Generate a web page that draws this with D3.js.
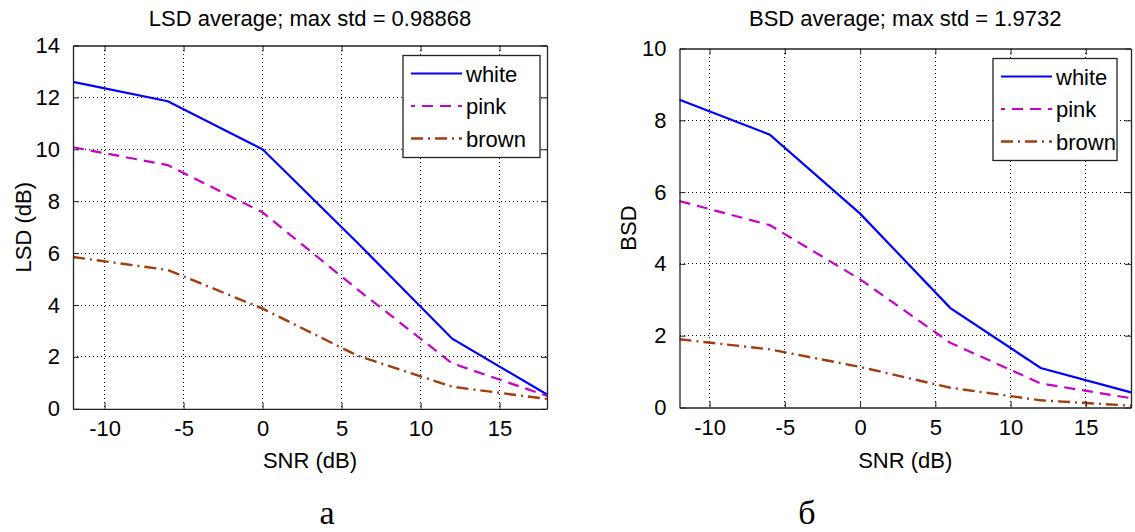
<!DOCTYPE html>
<html>
<head>
<meta charset="utf-8">
<script src="https://cdn.jsdelivr.net/npm/d3@7"></script>
<style>
  body { margin: 0; background: #fff; }
  text { font-family: "Liberation Sans", Arial, sans-serif; fill: #000; }
</style>
</head>
<body>
<div id="chart"></div>
<script>
const WIDTH = 1135;
const HEIGHT = 532;

// data
const snr = [-12, -6, 0, 6, 12, 18];
const xTicks = [-10, -5, 0, 5, 10, 15];
const noiseNames = ["white", "pink", "brown"];

const lsdWhite = [12.6, 11.85, 10.0, 6.4, 2.7, 0.55];
const lsdPink = [10.08, 9.39, 7.57, 4.6, 1.75, 0.5];
const lsdBrown = [5.85, 5.35, 3.86, 2.05, 0.85, 0.38];
const lsdTicks = [0, 2, 4, 6, 8, 10, 12, 14];

const bsdWhite = [8.57, 7.6, 5.4, 2.77, 1.1, 0.42];
const bsdPink = [5.75, 5.08, 3.57, 1.8, 0.67, 0.26];
const bsdBrown = [1.9, 1.62, 1.13, 0.55, 0.2, 0.05];
const bsdTicks = [0, 2, 4, 6, 8, 10];

const lineStyles = {
  white: {color: "#0000ff", dash: null, width: 2.2},
  pink: {color: "#c800c8", dash: "11,7", width: 2.2},
  brown: {color: "#a23c0c", dash: "12,5,2,5", width: 2.4}
};

let svg = d3.select("#chart").append("svg")
    .attr("width", WIDTH)
    .attr("height", HEIGHT);

// plain hyphen for negatives, like the original
let plainFormat = d => String(d);

function drawPanel(cfg) {
  let xScale = d3.scaleLinear().domain([-12, 18]).range([cfg.left, cfg.right]);
  let yScale = d3.scaleLinear().domain([0, cfg.yMax]).range([cfg.bottom, cfg.top]);
  let g = svg.append("g").classed("panel", true);

  // dotted grid
  g.append("g").selectAll("line.vgrid").data(xTicks).enter()
    .append("line")
    .attr("x1", d => xScale(d)).attr("x2", d => xScale(d))
    .attr("y1", cfg.top).attr("y2", cfg.bottom)
    .attr("stroke", "#000").attr("stroke-width", 1)
    .attr("stroke-dasharray", "1,3")
    .attr("shape-rendering", "crispEdges");
  g.append("g").selectAll("line.hgrid").data(cfg.yTicks.slice(1, -1)).enter()
    .append("line")
    .attr("x1", cfg.left).attr("x2", cfg.right)
    .attr("y1", d => yScale(d)).attr("y2", d => yScale(d))
    .attr("stroke", "#000").attr("stroke-width", 1)
    .attr("stroke-dasharray", "1,3")
    .attr("shape-rendering", "crispEdges");

  // series
  let line = d3.line()
    .x((d, i) => xScale(snr[i]))
    .y(d => yScale(d));
  cfg.series.forEach(function(values, i) {
    let st = lineStyles[noiseNames[i]];
    g.append("path")
      .datum(values)
      .attr("d", line)
      .attr("fill", "none")
      .attr("stroke", st.color)
      .attr("stroke-width", st.width)
      .attr("stroke-dasharray", st.dash);
  });

  // axes, ticks pointing inward on all four sides
  let tickLen = 6;
  let bottomAxis = d3.axisBottom(xScale).tickValues(xTicks).tickFormat(plainFormat).tickSizeInner(-tickLen).tickSizeOuter(0).tickPadding(12);
  let topAxis = d3.axisTop(xScale).tickValues(xTicks).tickSizeInner(-tickLen).tickSizeOuter(0).tickFormat("");
  let leftAxis = d3.axisLeft(yScale).tickValues(cfg.yTicks).tickFormat(plainFormat).tickSizeInner(-tickLen).tickSizeOuter(0).tickPadding(13);
  let rightAxis = d3.axisRight(yScale).tickValues(cfg.yTicks).tickSizeInner(-tickLen).tickSizeOuter(0).tickFormat("");

  let axes = [
    [bottomAxis, `translate(0,${cfg.bottom})`],
    [topAxis, `translate(0,${cfg.top})`],
    [leftAxis, `translate(${cfg.left},0)`],
    [rightAxis, `translate(${cfg.right},0)`]
  ];
  axes.forEach(function(a) {
    let ax = g.append("g").attr("transform", a[1]).call(a[0]);
    ax.select(".domain").attr("stroke", "#222").attr("stroke-width", 1.3);
    ax.selectAll(".tick line").attr("stroke", "#222");
    ax.selectAll(".tick text")
      .style("font-family", "'Liberation Sans', Arial, sans-serif")
      .style("font-size", "22px")
      .attr("fill", "#000");
  });

  // labels
  g.append("text")
    .attr("x", (cfg.left + cfg.right) / 2)
    .attr("y", 26)
    .attr("text-anchor", "middle")
    .style("font-size", "22px")
    .text(cfg.title);
  g.append("text")
    .attr("x", (cfg.left + cfg.right) / 2)
    .attr("y", 468)
    .attr("text-anchor", "middle")
    .style("font-size", "22px")
    .text("SNR (dB)");
  g.append("text")
    .attr("transform", `translate(${cfg.yLabelX},${(cfg.top + cfg.bottom) / 2}) rotate(-90)`)
    .attr("text-anchor", "middle")
    .style("font-size", "22px")
    .text(cfg.yLabel);
  g.append("text")
    .attr("x", cfg.captionX)
    .attr("y", 524)
    .attr("text-anchor", "middle")
    .style("font-family", "'Liberation Serif', 'Times New Roman', serif")
    .style("font-size", "34px")
    .text(cfg.caption);

  // legend
  let lg = g.append("g").attr("transform", `translate(${cfg.legendX},${cfg.top + 10})`);
  lg.append("rect")
    .attr("width", cfg.legendW).attr("height", 102)
    .attr("fill", "#fff").attr("stroke", "#222").attr("stroke-width", 1.3);
  noiseNames.forEach(function(name, i) {
    let st = lineStyles[name];
    let y = 18 + i * 32.5;
    lg.append("line")
      .attr("x1", 8).attr("x2", 59)
      .attr("y1", y).attr("y2", y)
      .attr("stroke", st.color)
      .attr("stroke-width", st.width)
      .attr("stroke-dasharray", st.dash ? st.dash : null)
      .attr("stroke-dashoffset", name == "pink" ? 7 : (name == "brown" ? 0 : null));
    lg.append("text")
      .attr("x", 63).attr("y", y + 8)
      .style("font-size", "22px")
      .text(name);
  });
}

drawPanel({
  left: 73, right: 547, top: 45.5, bottom: 408.8,
  yMax: 14, yTicks: lsdTicks,
  series: [lsdWhite, lsdPink, lsdBrown],
  title: "LSD average; max std = 0.98868",
  yLabel: "LSD (dB)", yLabelX: 31,
  caption: "а", captionX: 327,
  legendX: 403, legendW: 137
});

drawPanel({
  left: 679.5, right: 1131, top: 48.5, bottom: 407.5,
  yMax: 10, yTicks: bsdTicks,
  series: [bsdWhite, bsdPink, bsdBrown],
  title: "BSD average; max std = 1.9732",
  yLabel: "BSD", yLabelX: 636,
  caption: "б", captionX: 807,
  legendX: 993, legendW: 124
});
</script>
</body>
</html>
